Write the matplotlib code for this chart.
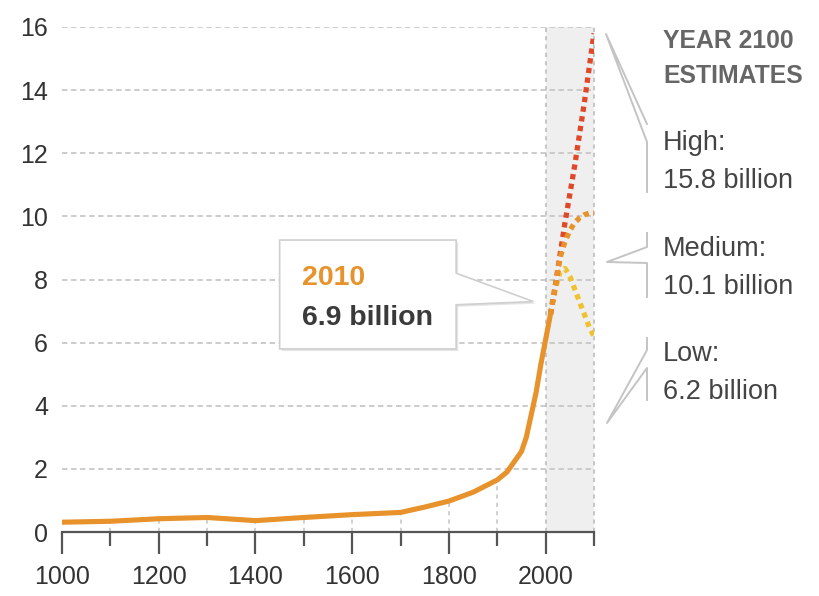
import matplotlib.pyplot as plt
from matplotlib.patches import Polygon
from matplotlib.lines import Line2D
import matplotlib.patheffects as pe

plt.rcParams['font.family'] = ['Liberation Sans', 'DejaVu Sans']

# world population, billions
years = [1000, 1100, 1200, 1300, 1400, 1500, 1600, 1700, 1750, 1800,
         1850, 1900, 1920, 1950, 1960, 1970, 1980, 1990, 2000, 2010]
pop = [0.31, 0.34, 0.42, 0.46, 0.36, 0.46, 0.55, 0.62, 0.79, 0.98,
       1.26, 1.65, 1.90, 2.55, 3.0, 3.7, 4.4, 5.3, 6.1, 6.9]

# UN projections to 2100
proj_years = [2010, 2020, 2030, 2040, 2050, 2060, 2070, 2080, 2090, 2100]
high = [6.9, 7.8, 8.8, 9.8, 10.7, 11.6, 12.6, 13.6, 14.7, 15.8]
medium = [6.9, 7.8, 8.7, 9.2, 9.55, 9.8, 9.95, 10.05, 10.1, 10.1]
low = [6.9, 7.7, 8.25, 8.35, 8.1, 7.7, 7.3, 6.9, 6.5, 6.2]

labels_2100 = [("High:", "15.8 billion"), ("Medium:", "10.1 billion"), ("Low:", "6.2 billion")]

ORANGE = '#e8922c'
RED = '#e0482a'
YELLOW = '#f0c232'
GRID = '#c8c8c8'

fig = plt.figure(figsize=(8.19, 5.96), dpi=100)
ax = fig.add_axes([62 / 819, 64 / 596, 532 / 819, 505 / 596])

ax.set_xlim(1000, 2100)
ax.set_ylim(0, 16)

# projection period
ax.axvspan(2000, 2100, color='#efefef', zorder=0, lw=0)

# grid: horizontal dashes, vertical drop lines to the curve
for v in range(2, 17, 2):
    ax.axhline(v, color=GRID, lw=1.3, ls=(0, (3, 2)), zorder=1)
pop_at = dict(zip(years, pop))
cent = list(range(1100, 2000, 100))
ax.vlines(cent, 0, [pop_at[c] for c in cent], colors=GRID, lw=1.2,
          linestyles=(0, (2.5, 2.5)), zorder=1)
ax.vlines([2000, 2100], 0, 16, colors='#bdbdbd', lw=1.2,
          linestyles=(0, (2.5, 2.5)), zorder=1, clip_on=False)

ax.plot(years, pop, color=ORANGE, lw=3.7, zorder=4, solid_joinstyle='round')
dot = dict(lw=3.8, ls=(0, (1.0, 0.85)), dash_capstyle='butt', zorder=3)
ax.plot(proj_years, low, color=YELLOW, **dot)
ax.plot(proj_years, high, color=RED, **dot)
ax.plot(proj_years, medium, color=ORANGE, **dot)

# axes styling
for s in ['top', 'right', 'left']:
    ax.spines[s].set_visible(False)
ax.spines['bottom'].set_color('#555555')
ax.spines['bottom'].set_linewidth(1.6)
ax.set_xticks(range(1000, 2001, 200))
ax.set_xticks(range(1100, 2101, 200), minor=True)
ax.set_yticks(range(0, 17, 2))
ax.tick_params(axis='x', which='major', direction='out', length=16, width=1.6,
               color='#555555', pad=8, labelsize=18, labelcolor='#333333')
ax.tick_params(axis='x', which='minor', direction='out', length=10, width=1.6,
               color='#555555')
ax.tick_params(axis='y', length=0, pad=10, labelsize=18, labelcolor='#333333')
ax.set_facecolor('none')

# 2010 callout
box = Polygon([(1450, 9.25), (1815, 9.25), (1815, 8.2), (1975, 7.3),
               (1815, 7.2), (1815, 5.8), (1450, 5.8)],
              closed=True, facecolor='white', edgecolor='#cfcfcf', lw=1.2, zorder=6,
              path_effects=[pe.SimplePatchShadow(offset=(1.5, -1.5), shadow_rgbFace='#000000',
                                                 alpha=0.10), pe.Normal()])
ax.add_patch(box)
ax.text(1496, 7.83, "2010", color=ORANGE, fontsize=20.5, fontweight='bold',
        va='baseline', zorder=7)
ax.text(1496, 6.56, "6.9 billion", color='#3a3a3a', fontsize=20.5, fontweight='bold',
        va='baseline', zorder=7)

# right-hand 2100 estimates
def fy(py):
    return (596 - py) / 596

tx = 663 / 819
fig.text(tx, fy(48), "YEAR 2100", color='#666666', fontsize=17.8, fontweight='bold', va='baseline')
fig.text(tx, fy(83), "ESTIMATES", color='#666666', fontsize=17.8, fontweight='bold', va='baseline')
for (name, val), base in zip(labels_2100, [150, 256, 361]):
    fig.text(tx, fy(base), name, color='#444444', fontsize=19.5, va='baseline')
    fig.text(tx, fy(base + 38), val, color='#444444', fontsize=19.5, va='baseline')

# bracket tails pointing back at the chart
brackets = [
    [(647, 124), (606, 34), (647, 142), (647, 192)],
    [(647, 233), (647, 247), (607, 262), (647, 263), (647, 297)],
    [(647, 338), (647, 350), (607, 423), (647, 368), (647, 400)],
]
for pts in brackets:
    xs = [p[0] / 819 for p in pts]
    ys = [fy(p[1]) for p in pts]
    fig.add_artist(Line2D(xs, ys, color='#c4c4c4', lw=1.4, transform=fig.transFigure))

fig.savefig('out.png', dpi=100)
